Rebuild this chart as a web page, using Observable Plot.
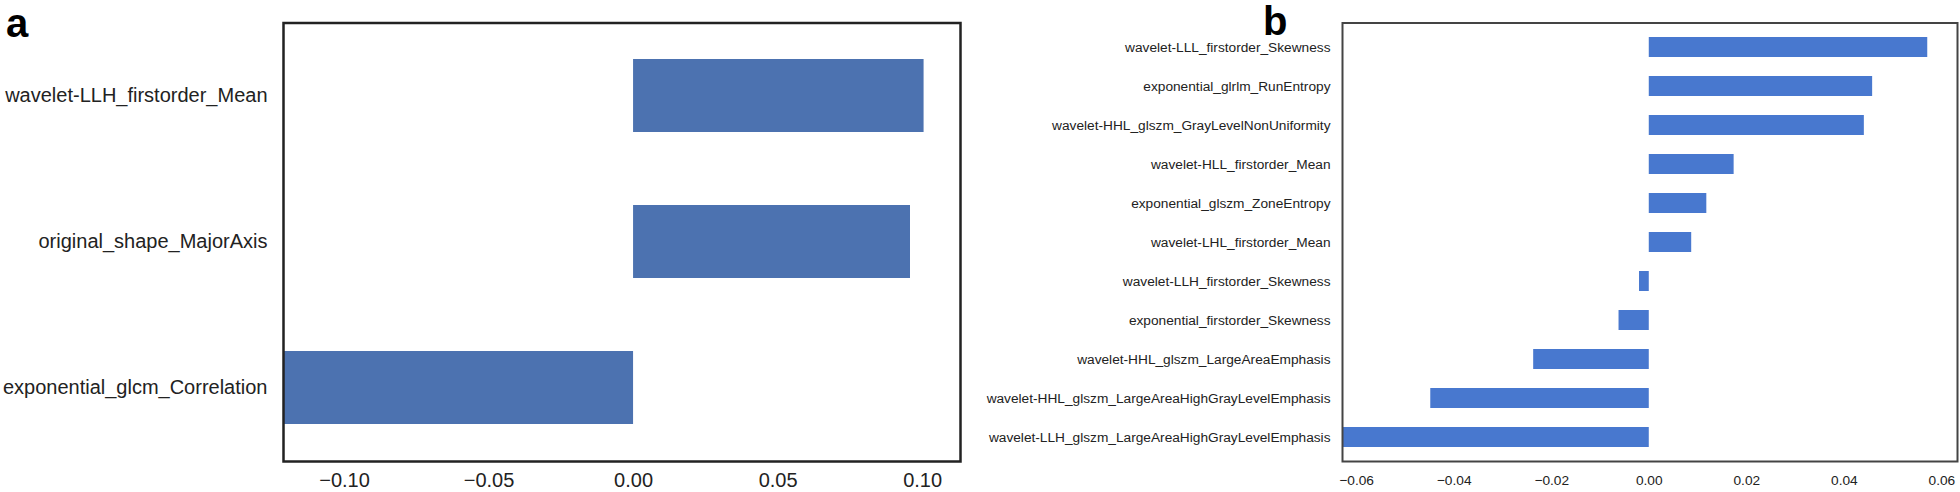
<!DOCTYPE html>
<html>
<head>
<meta charset="utf-8">
<script src="https://cdn.jsdelivr.net/npm/d3@7"></script>
<script src="https://cdn.jsdelivr.net/npm/@observablehq/plot@0.6"></script>
<style>
  html, body { margin: 0; padding: 0; background: #fff; }
  #wrap { position: relative; width: 1960px; height: 492px; overflow: hidden; }
  #wrap > div.panel { position: absolute; top: 0; }
  #labels { position: absolute; left: 0; top: 0; pointer-events: none; }
</style>
</head>
<body>
<div id="wrap">
  <div class="panel" id="pa" style="left:0"></div>
  <div class="panel" id="pb" style="left:980px"></div>
  <svg id="labels" width="1960" height="492">
    <text x="6" y="36.5" font-family="Liberation Sans, Arial, sans-serif" font-weight="bold" font-size="40" fill="#000">a</text>
    <text x="1263" y="35" font-family="Liberation Sans, Arial, sans-serif" font-weight="bold" font-size="40" fill="#000">b</text>
  </svg>
</div>
<script>
// Panel a data
const catsA = ["wavelet-LLH_firstorder_Mean", "original_shape_MajorAxis", "exponential_glcm_Correlation"];
const valsA = [0.1005, 0.0958, -0.1211];
const ticksA = [-0.10, -0.05, 0.00, 0.05, 0.10];

// Panel b data
const catsB = [
  "wavelet-LLL_firstorder_Skewness",
  "exponential_glrlm_RunEntropy",
  "wavelet-HHL_glszm_GrayLevelNonUniformity",
  "wavelet-HLL_firstorder_Mean",
  "exponential_glszm_ZoneEntropy",
  "wavelet-LHL_firstorder_Mean",
  "wavelet-LLH_firstorder_Skewness",
  "exponential_firstorder_Skewness",
  "wavelet-HHL_glszm_LargeAreaEmphasis",
  "wavelet-HHL_glszm_LargeAreaHighGrayLevelEmphasis",
  "wavelet-LLH_glszm_LargeAreaHighGrayLevelEmphasis"
];
const valsB = [0.0571, 0.0458, 0.0441, 0.0174, 0.0118, 0.0087, -0.0020, -0.0062, -0.0237, -0.0448, -0.0629];
const ticksB = [-0.06, -0.04, -0.02, 0.00, 0.02, 0.04, 0.06];

const dataA = catsA.map((c, i) => ({feature: c, value: valsA[i]}));
const dataB = catsB.map((c, i) => ({feature: c, value: valsB[i]}));
const fmt = d3.format(".2f");

const chartA = Plot.plot({
  width: 980,
  height: 492,
  marginLeft: 283,
  marginRight: 20,
  marginTop: 22.5,
  marginBottom: 31,
  style: {fontFamily: "Liberation Sans, Arial, sans-serif", fontSize: "20px", color: "#222", background: "#fff"},
  x: {domain: [-0.1211, 0.1131]},
  y: {domain: catsA, paddingInner: 0.5, paddingOuter: 0.25},
  marks: [
    Plot.barX(dataA, {y: "feature", x: "value", fill: "#4C72B0"}),
    Plot.frame({stroke: "#222", strokeWidth: 2.5}),
    Plot.axisX({ticks: ticksA, tickFormat: fmt, tickSize: 0, tickPadding: 11, label: null}),
    Plot.axisY({tickSize: 0, tickPadding: 16, label: null})
  ]
});
document.getElementById("pa").appendChild(chartA);

const chartB = Plot.plot({
  width: 980,
  height: 492,
  marginLeft: 362,
  marginRight: 3,
  marginTop: 22.5,
  marginBottom: 31,
  style: {fontFamily: "Liberation Sans, Arial, sans-serif", fontSize: "13.7px", color: "#222", background: "#fff"},
  x: {domain: [-0.0629, 0.0632]},
  y: {domain: catsB, paddingInner: 0.5, paddingOuter: 0.25},
  marks: [
    Plot.barX(dataB, {y: "feature", x: "value", fill: "#4878CF"}),
    Plot.frame({stroke: "#444", strokeWidth: 2}),
    Plot.axisX({ticks: ticksB, tickFormat: fmt, tickSize: 0, tickPadding: 14, label: null}),
    Plot.axisY({tickSize: 0, tickPadding: 12, label: null})
  ]
});
document.getElementById("pb").appendChild(chartB);
</script>
</body>
</html>
